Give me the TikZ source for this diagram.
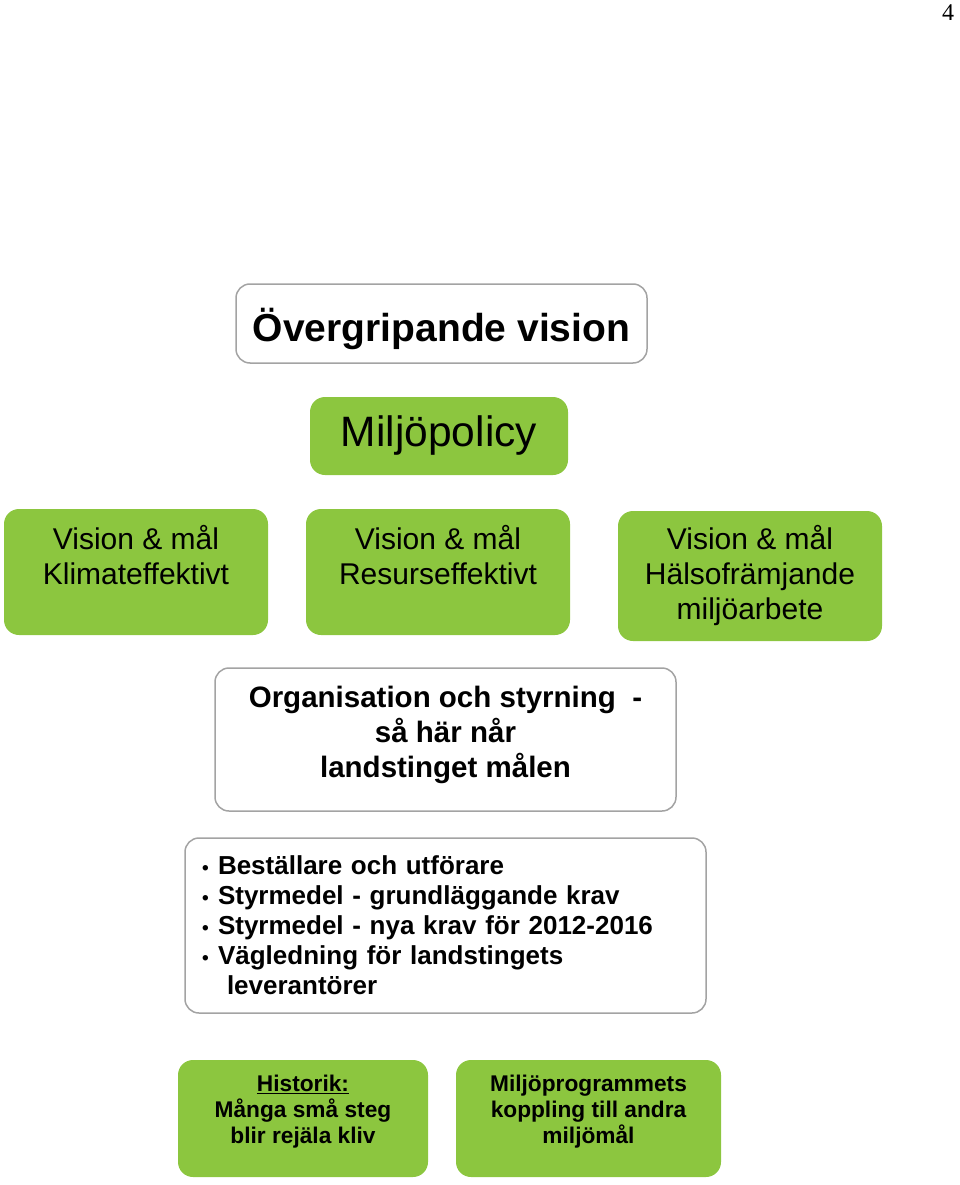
\documentclass[tikz,border=0pt]{standalone}
\usepackage{fontspec}
\setmainfont{Liberation Sans}
\newfontfamily\pgnumfont{Liberation Serif}
\usepackage{xcolor}
\usepackage{tikz}
\usetikzlibrary{positioning}
\definecolor{leaf}{HTML}{8CC63F}
\definecolor{frame}{HTML}{A3A3A3}
\newcommand{\blt}{\makebox[16pt][l]{\fontsize{19}{19}\selectfont •}}

\begin{document}
\begin{tikzpicture}[
  x=1pt,y=-1pt,
  wbox/.style={draw=frame,fill=white,line width=1.5pt,rounded corners=14,align=center},
  gbox/.style={fill=leaf,rounded corners=15,align=center,minimum width=264},
  visn/.style={gbox,minimum height=126,font=\fontsize{30}{35}\selectfont},
  small/.style={gbox,minimum height=117,text depth=19pt,font=\bfseries\fontsize{22.7}{26}\selectfont}
]
\useasboundingbox (0,0) rectangle (960,1185);
\node[font=\pgnumfont\fontsize{24}{24}\selectfont] (pg) at (948,13) {4};
\node[wbox,minimum width=411,minimum height=79,text height=44pt,font=\bfseries\fontsize{39}{44}\selectfont] (ov) at (441.5,323.5) {Övergripande vision};
\node[gbox,minimum width=258,minimum height=78,font=\fontsize{42.5}{48}\selectfont] (pol) at (439,436) {Miljöpolicy};
\node[visn] (klim) at (136,572) {Vision \& mål\\Klimateffektivt\\~};
\node[visn] (res) at (438,572) {Vision \& mål\\Resurseffektivt\\~};
\node[visn,minimum height=130] (hals) at (750,576) {Vision \& mål\\Hälsofrämjande\\miljöarbete};
\node[wbox,minimum width=461,minimum height=143,text depth=16pt,font=\bfseries\fontsize{29.5}{35}\selectfont] (org) at (445.5,739.5)
  {Organisation och styrning\ \ -\\så här når\\landstinget målen};
\node[wbox,minimum width=521,minimum height=175,inner xsep=17,text width=487,align=left,
      font=\bfseries\fontsize{26}{30}\selectfont] (lst) at (445.5,925.5)
  {\blt Beställare och utförare\\
   \blt Styrmedel - grundläggande krav\\
   \blt Styrmedel - nya krav för 2012-2016\\
   \blt Vägledning för landstingets\\
   \hspace{25pt}leverantörer};
\node[small,minimum width=250] (hist) at (303,1118.5) {\underline{Historik:}\\Många små steg\\blir rejäla kliv};
\node[small,minimum width=265] (kopp) at (588.5,1118.5) {Miljöprogrammets\\koppling till andra\\miljömål};
\end{tikzpicture}
\end{document}
